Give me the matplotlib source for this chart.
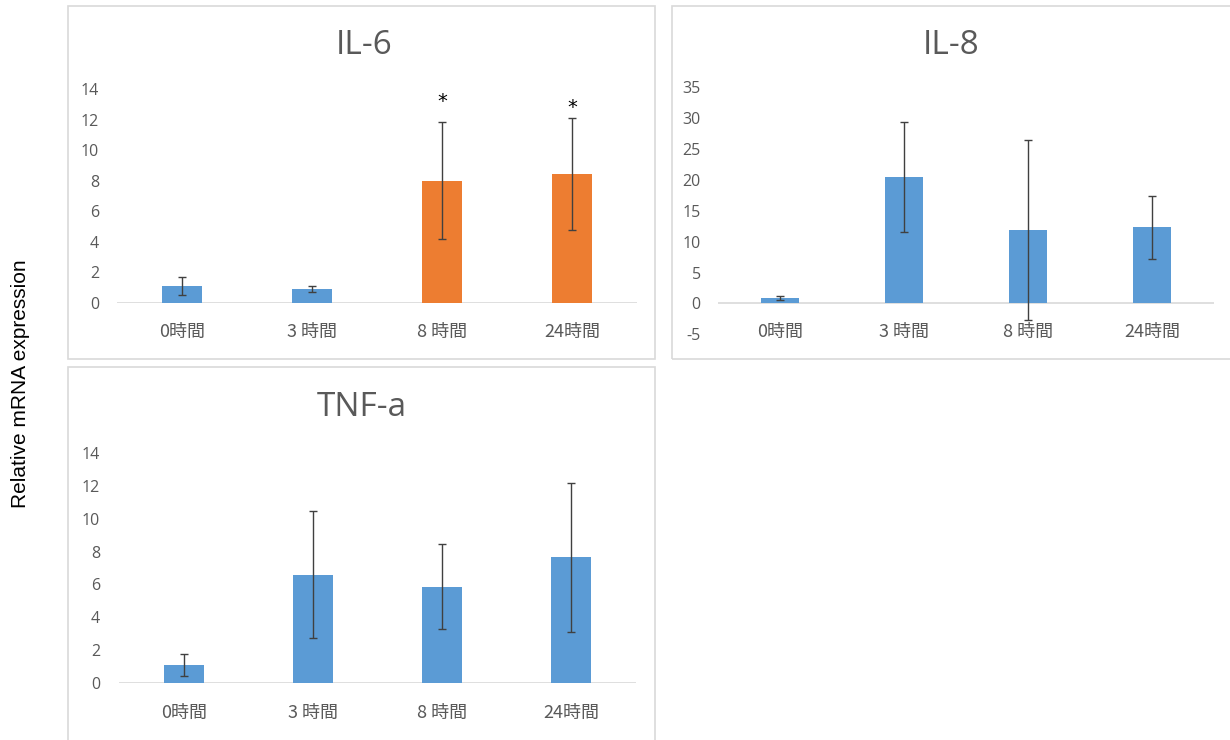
import matplotlib
matplotlib.use("Agg")
import matplotlib.pyplot as plt
from matplotlib.patches import Rectangle

# Time points and expression data (mean ± error) for each cytokine
categories = ["0時間", "3 時間", "8 時間", "24時間"]

il6_mean = [1.1, 0.9, 8.0, 8.45]
il6_err = [0.6, 0.22, 3.85, 3.65]
il6_sig = [False, False, True, True]

il8_mean = [0.9, 20.4, 11.9, 12.3]
il8_err = [0.35, 8.9, 14.6, 5.1]

tnf_mean = [1.08, 6.6, 5.85, 7.65]
tnf_err = [0.65, 3.85, 2.6, 4.55]

BLUE = "#5B9BD5"
ORANGE = "#ED7D31"
GRAY_TEXT = "#595959"
AXIS_GRAY = "#D9D9D9"
ERR_COLOR = "#404040"

W, H = 1230, 740
fig = plt.figure(figsize=(W / 100, H / 100), dpi=100)
fig.patch.set_facecolor("white")

CJK = ["Noto Sans CJK JP", "DejaVu Sans"]


def px_axes(left, right, y_bottom, y_top):
    """Create axes from pixel coordinates measured from the top-left."""
    return fig.add_axes([left / W, 1 - y_bottom / H,
                         (right - left) / W, (y_bottom - y_top) / H])


def frame(x0, y0, x1, y1):
    fig.add_artist(Rectangle((x0 / W, 1 - y1 / H), (x1 - x0) / W, (y1 - y0) / H,
                             transform=fig.transFigure, fill=False,
                             edgecolor=AXIS_GRAY, linewidth=1.2))


def panel(ax, means, errs, colors, ylim, yticks, label_y, tick_pad):
    x = list(range(len(categories)))
    ax.bar(x, means, width=0.31, color=colors, zorder=2)
    ax.errorbar(x, means, yerr=errs, fmt="none", ecolor=ERR_COLOR,
                elinewidth=1.0, capsize=3.2, capthick=1.0, zorder=3)
    ax.axhline(0, color=AXIS_GRAY, linewidth=1.2, zorder=1)
    ax.set_xlim(-0.5, len(categories) - 0.5)
    ax.set_ylim(*ylim)
    ax.set_yticks(yticks)
    ax.set_yticklabels([str(t) for t in yticks], fontsize=11.5,
                       color=GRAY_TEXT, family="Open Sans")
    ax.tick_params(axis="y", length=0, pad=tick_pad)
    ax.set_xticks([])
    for s in ax.spines.values():
        s.set_visible(False)
    ax.patch.set_alpha(0)
    for i, c in enumerate(categories):
        ax.text(i, label_y, c, transform=ax.get_xaxis_transform(),
                ha="center", va="center", fontsize=13, color=GRAY_TEXT,
                family=CJK)


# Panel frames
frame(67.7, 6, 655, 359)
frame(671.7, 6, 1240, 359)
frame(67.7, 367, 655, 750)

# IL-6
ax1 = px_axes(117, 637, 302.7, 89.3)
colors1 = [ORANGE if s else BLUE for s in il6_sig]
panel(ax1, il6_mean, il6_err, colors1, (0, 14), list(range(0, 15, 2)), -0.137, 13)
star_offsets = [0, 0, 15, 7.5]
for i, s in enumerate(il6_sig):
    if s:
        ax1.annotate("*", xy=(i, il6_mean[i] + il6_err[i]),
                     xytext=(0, star_offsets[i]), textcoords="offset points",
                     ha="center", va="center", fontsize=14, color="black")
fig.text(364 / W, 1 - 45 / H, "IL-6", ha="center", va="center",
         fontsize=24, color=GRAY_TEXT, family="Open Sans")

# IL-8
ax2 = px_axes(718, 1214, 334.3, 87.3)
panel(ax2, il8_mean, il8_err, [BLUE] * 4, (-5, 35), list(range(-5, 40, 5)), 0.009, 12.5)
fig.text(951 / W, 1 - 45 / H, "IL-8", ha="center", va="center",
         fontsize=24, color=GRAY_TEXT, family="Open Sans")

# TNF-a
ax3 = px_axes(119, 636, 682.7, 453.3)
panel(ax3, tnf_mean, tnf_err, [BLUE] * 4, (0, 14), list(range(0, 15, 2)), -0.132, 13.5)
fig.text(362 / W, 1 - 408 / H, "TNF-a", ha="center", va="center",
         fontsize=24, color=GRAY_TEXT, family="Open Sans")

# Shared y-axis label
fig.text(21 / W, 1 - 384 / H, "Relative mRNA expression", rotation=90,
         ha="center", va="center", fontsize=15, color="black",
         family="Liberation Sans")

fig.savefig("out.png", dpi=100, facecolor="white")
